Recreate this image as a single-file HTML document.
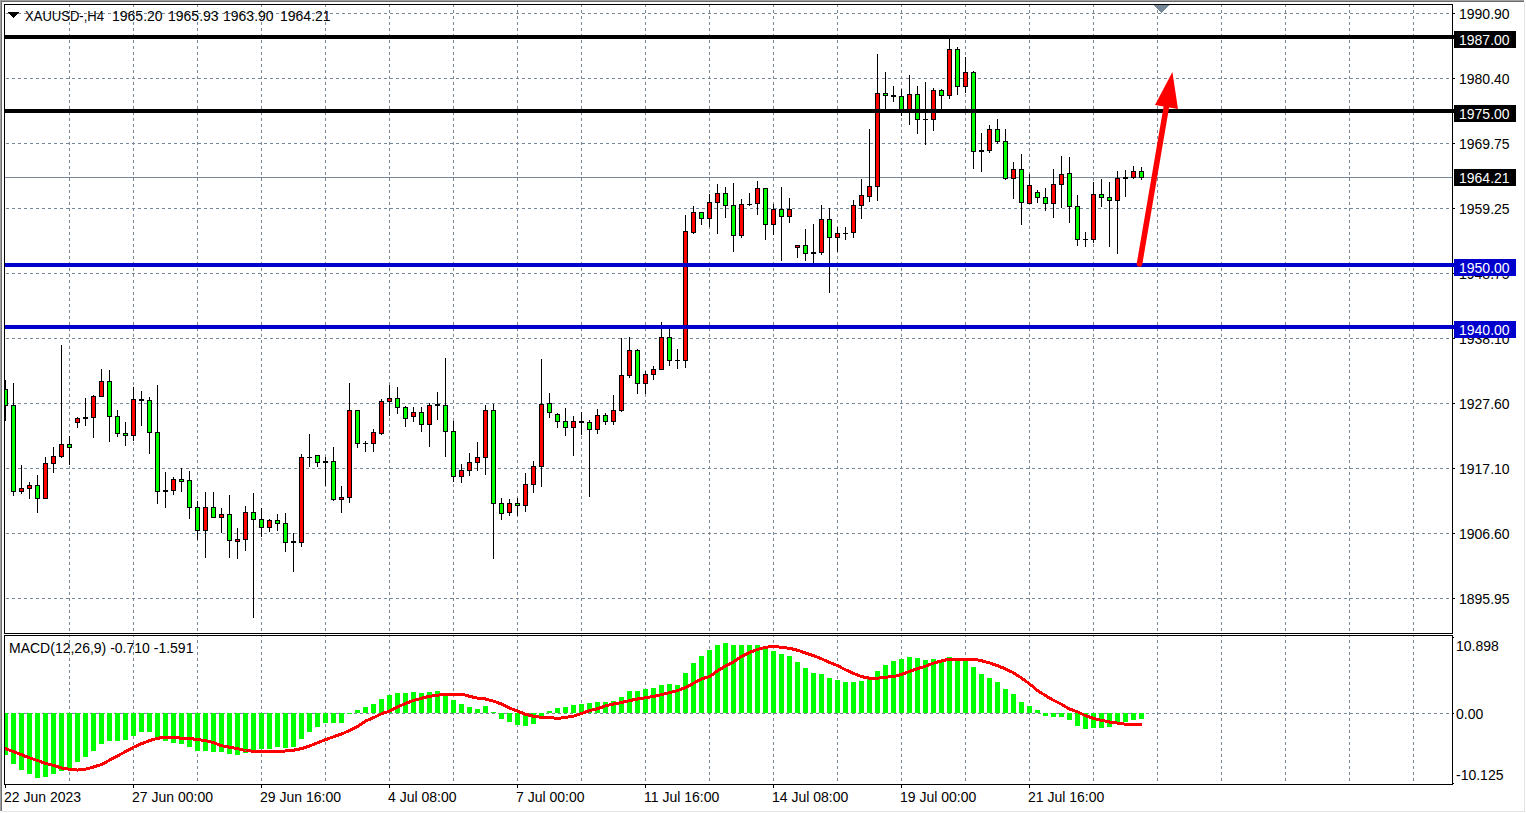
<!DOCTYPE html>
<html><head><meta charset="utf-8"><style>
html,body{margin:0;padding:0;background:#fff;overflow:hidden}
svg{display:block}
</style></head><body>
<svg width="1526" height="813" viewBox="0 0 1526 813" shape-rendering="crispEdges">
<rect x="0" y="0" width="1526" height="813" fill="#ffffff"/>
<rect x="0" y="0" width="1524" height="1" fill="#a0a0a0"/>
<rect x="0" y="1" width="1524" height="1" fill="#6e6e6e"/>
<rect x="0" y="0" width="1" height="811" fill="#a0a0a0"/>
<rect x="1" y="1" width="1" height="810" fill="#6e6e6e"/>
<rect x="1524" y="2" width="1" height="810" fill="#e3e3e3"/>
<rect x="2" y="811" width="1523" height="1" fill="#e3e3e3"/>
<g stroke="#778899" stroke-width="1" stroke-dasharray="3 3" fill="none">
<path d="M6 13.5H1452"/>
<path d="M6 78.5H1452"/>
<path d="M6 143.5H1452"/>
<path d="M6 208.5H1452"/>
<path d="M6 273.5H1452"/>
<path d="M6 338.5H1452"/>
<path d="M6 403.5H1452"/>
<path d="M6 468.5H1452"/>
<path d="M6 533.5H1452"/>
<path d="M6 598.5H1452"/>
<path d="M69.5 4V633"/>
<path d="M133.5 4V633"/>
<path d="M197.5 4V633"/>
<path d="M261.5 4V633"/>
<path d="M325.5 4V633"/>
<path d="M389.5 4V633"/>
<path d="M453.5 4V633"/>
<path d="M517.5 4V633"/>
<path d="M581.5 4V633"/>
<path d="M645.5 4V633"/>
<path d="M709.5 4V633"/>
<path d="M773.5 4V633"/>
<path d="M837.5 4V633"/>
<path d="M901.5 4V633"/>
<path d="M965.5 4V633"/>
<path d="M1029.5 4V633"/>
<path d="M1093.5 4V633"/>
<path d="M1157.5 4V633"/>
<path d="M1221.5 4V633"/>
<path d="M1285.5 4V633"/>
<path d="M1349.5 4V633"/>
<path d="M1413.5 4V633"/>
<path d="M6 713.5H1452"/>
<path d="M69.5 640V784"/>
<path d="M69.5 636V637"/>
<path d="M133.5 640V784"/>
<path d="M133.5 636V637"/>
<path d="M197.5 640V784"/>
<path d="M197.5 636V637"/>
<path d="M261.5 640V784"/>
<path d="M261.5 636V637"/>
<path d="M325.5 640V784"/>
<path d="M325.5 636V637"/>
<path d="M389.5 640V784"/>
<path d="M389.5 636V637"/>
<path d="M453.5 640V784"/>
<path d="M453.5 636V637"/>
<path d="M517.5 640V784"/>
<path d="M517.5 636V637"/>
<path d="M581.5 640V784"/>
<path d="M581.5 636V637"/>
<path d="M645.5 640V784"/>
<path d="M645.5 636V637"/>
<path d="M709.5 640V784"/>
<path d="M709.5 636V637"/>
<path d="M773.5 640V784"/>
<path d="M773.5 636V637"/>
<path d="M837.5 640V784"/>
<path d="M837.5 636V637"/>
<path d="M901.5 640V784"/>
<path d="M901.5 636V637"/>
<path d="M965.5 640V784"/>
<path d="M965.5 636V637"/>
<path d="M1029.5 640V784"/>
<path d="M1029.5 636V637"/>
<path d="M1093.5 640V784"/>
<path d="M1093.5 636V637"/>
<path d="M1157.5 640V784"/>
<path d="M1157.5 636V637"/>
<path d="M1221.5 640V784"/>
<path d="M1221.5 636V637"/>
<path d="M1285.5 640V784"/>
<path d="M1285.5 636V637"/>
<path d="M1349.5 640V784"/>
<path d="M1349.5 636V637"/>
<path d="M1413.5 640V784"/>
<path d="M1413.5 636V637"/>
</g>
<rect x="4" y="177" width="1448" height="1" fill="#778899"/>
<g>
<rect x="5" y="380" width="1" height="41" fill="#000"/>
<rect x="3" y="389" width="5" height="17" fill="#000"/>
<rect x="4" y="390" width="3" height="15" fill="#00ff00"/>
<rect x="13" y="383" width="1" height="113" fill="#000"/>
<rect x="11" y="405" width="5" height="87" fill="#000"/>
<rect x="12" y="406" width="3" height="85" fill="#00ff00"/>
<rect x="21" y="465" width="1" height="29" fill="#000"/>
<rect x="19" y="488" width="5" height="4" fill="#000"/>
<rect x="20" y="489" width="3" height="2" fill="#ff0000"/>
<rect x="29" y="482" width="1" height="17" fill="#000"/>
<rect x="27" y="485" width="5" height="4" fill="#000"/>
<rect x="28" y="486" width="3" height="2" fill="#ff0000"/>
<rect x="37" y="475" width="1" height="38" fill="#000"/>
<rect x="35" y="485" width="5" height="14" fill="#000"/>
<rect x="36" y="486" width="3" height="12" fill="#00ff00"/>
<rect x="45" y="457" width="1" height="42" fill="#000"/>
<rect x="43" y="463" width="5" height="36" fill="#000"/>
<rect x="44" y="464" width="3" height="34" fill="#ff0000"/>
<rect x="53" y="447" width="1" height="26" fill="#000"/>
<rect x="51" y="456" width="5" height="8" fill="#000"/>
<rect x="52" y="457" width="3" height="6" fill="#ff0000"/>
<rect x="61" y="345" width="1" height="113" fill="#000"/>
<rect x="59" y="444" width="5" height="13" fill="#000"/>
<rect x="60" y="445" width="3" height="11" fill="#ff0000"/>
<rect x="69" y="436" width="1" height="29" fill="#000"/>
<rect x="67" y="444" width="5" height="4" fill="#000"/>
<rect x="68" y="445" width="3" height="2" fill="#00ff00"/>
<rect x="77" y="417" width="1" height="11" fill="#000"/>
<rect x="75" y="418" width="5" height="5" fill="#000"/>
<rect x="76" y="419" width="3" height="3" fill="#ff0000"/>
<rect x="85" y="398" width="1" height="28" fill="#000"/>
<rect x="83" y="417" width="5" height="2" fill="#000"/>
<rect x="93" y="395" width="1" height="43" fill="#000"/>
<rect x="91" y="396" width="5" height="22" fill="#000"/>
<rect x="92" y="397" width="3" height="20" fill="#ff0000"/>
<rect x="101" y="369" width="1" height="28" fill="#000"/>
<rect x="99" y="381" width="5" height="16" fill="#000"/>
<rect x="100" y="382" width="3" height="14" fill="#ff0000"/>
<rect x="109" y="370" width="1" height="72" fill="#000"/>
<rect x="107" y="381" width="5" height="36" fill="#000"/>
<rect x="108" y="382" width="3" height="34" fill="#00ff00"/>
<rect x="117" y="410" width="1" height="27" fill="#000"/>
<rect x="115" y="416" width="5" height="18" fill="#000"/>
<rect x="116" y="417" width="3" height="16" fill="#00ff00"/>
<rect x="125" y="422" width="1" height="24" fill="#000"/>
<rect x="123" y="433" width="5" height="3" fill="#000"/>
<rect x="124" y="434" width="3" height="1" fill="#00ff00"/>
<rect x="133" y="387" width="1" height="54" fill="#000"/>
<rect x="131" y="399" width="5" height="37" fill="#000"/>
<rect x="132" y="400" width="3" height="35" fill="#ff0000"/>
<rect x="141" y="391" width="1" height="35" fill="#000"/>
<rect x="139" y="399" width="5" height="2" fill="#000"/>
<rect x="149" y="397" width="1" height="57" fill="#000"/>
<rect x="147" y="400" width="5" height="33" fill="#000"/>
<rect x="148" y="401" width="3" height="31" fill="#00ff00"/>
<rect x="157" y="385" width="1" height="119" fill="#000"/>
<rect x="155" y="432" width="5" height="60" fill="#000"/>
<rect x="156" y="433" width="3" height="58" fill="#00ff00"/>
<rect x="165" y="472" width="1" height="36" fill="#000"/>
<rect x="163" y="490" width="5" height="2" fill="#000"/>
<rect x="173" y="477" width="1" height="18" fill="#000"/>
<rect x="171" y="479" width="5" height="12" fill="#000"/>
<rect x="172" y="480" width="3" height="10" fill="#ff0000"/>
<rect x="181" y="468" width="1" height="24" fill="#000"/>
<rect x="179" y="479" width="5" height="3" fill="#000"/>
<rect x="180" y="480" width="3" height="1" fill="#00ff00"/>
<rect x="189" y="471" width="1" height="48" fill="#000"/>
<rect x="187" y="480" width="5" height="28" fill="#000"/>
<rect x="188" y="481" width="3" height="26" fill="#00ff00"/>
<rect x="197" y="501" width="1" height="39" fill="#000"/>
<rect x="195" y="507" width="5" height="24" fill="#000"/>
<rect x="196" y="508" width="3" height="22" fill="#00ff00"/>
<rect x="205" y="492" width="1" height="66" fill="#000"/>
<rect x="203" y="507" width="5" height="24" fill="#000"/>
<rect x="204" y="508" width="3" height="22" fill="#ff0000"/>
<rect x="213" y="492" width="1" height="26" fill="#000"/>
<rect x="211" y="507" width="5" height="11" fill="#000"/>
<rect x="212" y="508" width="3" height="9" fill="#00ff00"/>
<rect x="221" y="508" width="1" height="25" fill="#000"/>
<rect x="219" y="514" width="5" height="4" fill="#000"/>
<rect x="220" y="515" width="3" height="2" fill="#ff0000"/>
<rect x="229" y="495" width="1" height="63" fill="#000"/>
<rect x="227" y="514" width="5" height="27" fill="#000"/>
<rect x="228" y="515" width="3" height="25" fill="#00ff00"/>
<rect x="237" y="528" width="1" height="31" fill="#000"/>
<rect x="235" y="539" width="5" height="3" fill="#000"/>
<rect x="236" y="540" width="3" height="1" fill="#ff0000"/>
<rect x="245" y="506" width="1" height="45" fill="#000"/>
<rect x="243" y="512" width="5" height="28" fill="#000"/>
<rect x="244" y="513" width="3" height="26" fill="#ff0000"/>
<rect x="253" y="493" width="1" height="125" fill="#000"/>
<rect x="251" y="512" width="5" height="8" fill="#000"/>
<rect x="252" y="513" width="3" height="6" fill="#00ff00"/>
<rect x="261" y="508" width="1" height="29" fill="#000"/>
<rect x="259" y="519" width="5" height="9" fill="#000"/>
<rect x="260" y="520" width="3" height="7" fill="#00ff00"/>
<rect x="269" y="519" width="1" height="13" fill="#000"/>
<rect x="267" y="520" width="5" height="8" fill="#000"/>
<rect x="268" y="521" width="3" height="6" fill="#ff0000"/>
<rect x="277" y="514" width="1" height="17" fill="#000"/>
<rect x="275" y="520" width="5" height="4" fill="#000"/>
<rect x="276" y="521" width="3" height="2" fill="#00ff00"/>
<rect x="285" y="513" width="1" height="39" fill="#000"/>
<rect x="283" y="523" width="5" height="20" fill="#000"/>
<rect x="284" y="524" width="3" height="18" fill="#00ff00"/>
<rect x="293" y="533" width="1" height="39" fill="#000"/>
<rect x="291" y="541" width="5" height="2" fill="#000"/>
<rect x="301" y="454" width="1" height="93" fill="#000"/>
<rect x="299" y="457" width="5" height="86" fill="#000"/>
<rect x="300" y="458" width="3" height="84" fill="#ff0000"/>
<rect x="309" y="434" width="1" height="33" fill="#000"/>
<rect x="307" y="457" width="5" height="1" fill="#000"/>
<rect x="317" y="455" width="1" height="12" fill="#000"/>
<rect x="315" y="455" width="5" height="8" fill="#000"/>
<rect x="316" y="456" width="3" height="6" fill="#00ff00"/>
<rect x="325" y="457" width="1" height="29" fill="#000"/>
<rect x="323" y="461" width="5" height="2" fill="#000"/>
<rect x="333" y="447" width="1" height="54" fill="#000"/>
<rect x="331" y="461" width="5" height="39" fill="#000"/>
<rect x="332" y="462" width="3" height="37" fill="#00ff00"/>
<rect x="341" y="486" width="1" height="27" fill="#000"/>
<rect x="339" y="497" width="5" height="3" fill="#000"/>
<rect x="340" y="498" width="3" height="1" fill="#ff0000"/>
<rect x="349" y="383" width="1" height="120" fill="#000"/>
<rect x="347" y="410" width="5" height="88" fill="#000"/>
<rect x="348" y="411" width="3" height="86" fill="#ff0000"/>
<rect x="357" y="410" width="1" height="38" fill="#000"/>
<rect x="355" y="410" width="5" height="34" fill="#000"/>
<rect x="356" y="411" width="3" height="32" fill="#00ff00"/>
<rect x="365" y="441" width="1" height="11" fill="#000"/>
<rect x="363" y="443" width="5" height="1" fill="#000"/>
<rect x="373" y="429" width="1" height="23" fill="#000"/>
<rect x="371" y="432" width="5" height="12" fill="#000"/>
<rect x="372" y="433" width="3" height="10" fill="#ff0000"/>
<rect x="381" y="399" width="1" height="36" fill="#000"/>
<rect x="379" y="401" width="5" height="33" fill="#000"/>
<rect x="380" y="402" width="3" height="31" fill="#ff0000"/>
<rect x="389" y="385" width="1" height="31" fill="#000"/>
<rect x="387" y="398" width="5" height="4" fill="#000"/>
<rect x="388" y="399" width="3" height="2" fill="#ff0000"/>
<rect x="397" y="387" width="1" height="27" fill="#000"/>
<rect x="395" y="398" width="5" height="10" fill="#000"/>
<rect x="396" y="399" width="3" height="8" fill="#00ff00"/>
<rect x="405" y="406" width="1" height="21" fill="#000"/>
<rect x="403" y="407" width="5" height="12" fill="#000"/>
<rect x="404" y="408" width="3" height="10" fill="#00ff00"/>
<rect x="413" y="407" width="1" height="15" fill="#000"/>
<rect x="411" y="412" width="5" height="5" fill="#000"/>
<rect x="412" y="413" width="3" height="3" fill="#ff0000"/>
<rect x="421" y="407" width="1" height="25" fill="#000"/>
<rect x="419" y="412" width="5" height="13" fill="#000"/>
<rect x="420" y="413" width="3" height="11" fill="#00ff00"/>
<rect x="429" y="403" width="1" height="44" fill="#000"/>
<rect x="427" y="405" width="5" height="20" fill="#000"/>
<rect x="428" y="406" width="3" height="18" fill="#ff0000"/>
<rect x="437" y="392" width="1" height="28" fill="#000"/>
<rect x="435" y="404" width="5" height="2" fill="#000"/>
<rect x="445" y="358" width="1" height="99" fill="#000"/>
<rect x="443" y="405" width="5" height="27" fill="#000"/>
<rect x="444" y="406" width="3" height="25" fill="#00ff00"/>
<rect x="453" y="421" width="1" height="61" fill="#000"/>
<rect x="451" y="431" width="5" height="46" fill="#000"/>
<rect x="452" y="432" width="3" height="44" fill="#00ff00"/>
<rect x="461" y="464" width="1" height="19" fill="#000"/>
<rect x="459" y="470" width="5" height="7" fill="#000"/>
<rect x="460" y="471" width="3" height="5" fill="#ff0000"/>
<rect x="469" y="453" width="1" height="23" fill="#000"/>
<rect x="467" y="462" width="5" height="9" fill="#000"/>
<rect x="468" y="463" width="3" height="7" fill="#ff0000"/>
<rect x="477" y="442" width="1" height="29" fill="#000"/>
<rect x="475" y="457" width="5" height="6" fill="#000"/>
<rect x="476" y="458" width="3" height="4" fill="#ff0000"/>
<rect x="485" y="405" width="1" height="70" fill="#000"/>
<rect x="483" y="410" width="5" height="48" fill="#000"/>
<rect x="484" y="411" width="3" height="46" fill="#ff0000"/>
<rect x="493" y="404" width="1" height="155" fill="#000"/>
<rect x="491" y="410" width="5" height="94" fill="#000"/>
<rect x="492" y="411" width="3" height="92" fill="#00ff00"/>
<rect x="501" y="498" width="1" height="22" fill="#000"/>
<rect x="499" y="503" width="5" height="11" fill="#000"/>
<rect x="500" y="504" width="3" height="9" fill="#00ff00"/>
<rect x="509" y="499" width="1" height="17" fill="#000"/>
<rect x="507" y="503" width="5" height="10" fill="#000"/>
<rect x="508" y="504" width="3" height="8" fill="#ff0000"/>
<rect x="517" y="498" width="1" height="18" fill="#000"/>
<rect x="515" y="503" width="5" height="3" fill="#000"/>
<rect x="516" y="504" width="3" height="1" fill="#00ff00"/>
<rect x="525" y="473" width="1" height="39" fill="#000"/>
<rect x="523" y="484" width="5" height="22" fill="#000"/>
<rect x="524" y="485" width="3" height="20" fill="#ff0000"/>
<rect x="533" y="461" width="1" height="32" fill="#000"/>
<rect x="531" y="466" width="5" height="19" fill="#000"/>
<rect x="532" y="467" width="3" height="17" fill="#ff0000"/>
<rect x="541" y="359" width="1" height="128" fill="#000"/>
<rect x="539" y="404" width="5" height="63" fill="#000"/>
<rect x="540" y="405" width="3" height="61" fill="#ff0000"/>
<rect x="549" y="393" width="1" height="25" fill="#000"/>
<rect x="547" y="403" width="5" height="10" fill="#000"/>
<rect x="548" y="404" width="3" height="8" fill="#00ff00"/>
<rect x="557" y="413" width="1" height="15" fill="#000"/>
<rect x="555" y="414" width="5" height="8" fill="#000"/>
<rect x="556" y="415" width="3" height="6" fill="#00ff00"/>
<rect x="565" y="408" width="1" height="28" fill="#000"/>
<rect x="563" y="421" width="5" height="7" fill="#000"/>
<rect x="564" y="422" width="3" height="5" fill="#00ff00"/>
<rect x="573" y="416" width="1" height="40" fill="#000"/>
<rect x="571" y="421" width="5" height="7" fill="#000"/>
<rect x="572" y="422" width="3" height="5" fill="#ff0000"/>
<rect x="581" y="412" width="1" height="23" fill="#000"/>
<rect x="579" y="421" width="5" height="2" fill="#000"/>
<rect x="589" y="420" width="1" height="77" fill="#000"/>
<rect x="587" y="422" width="5" height="8" fill="#000"/>
<rect x="588" y="423" width="3" height="6" fill="#00ff00"/>
<rect x="597" y="409" width="1" height="25" fill="#000"/>
<rect x="595" y="415" width="5" height="15" fill="#000"/>
<rect x="596" y="416" width="3" height="13" fill="#ff0000"/>
<rect x="605" y="413" width="1" height="12" fill="#000"/>
<rect x="603" y="415" width="5" height="7" fill="#000"/>
<rect x="604" y="416" width="3" height="5" fill="#00ff00"/>
<rect x="613" y="395" width="1" height="30" fill="#000"/>
<rect x="611" y="410" width="5" height="12" fill="#000"/>
<rect x="612" y="411" width="3" height="10" fill="#ff0000"/>
<rect x="621" y="338" width="1" height="74" fill="#000"/>
<rect x="619" y="375" width="5" height="36" fill="#000"/>
<rect x="620" y="376" width="3" height="34" fill="#ff0000"/>
<rect x="629" y="337" width="1" height="41" fill="#000"/>
<rect x="627" y="350" width="5" height="26" fill="#000"/>
<rect x="628" y="351" width="3" height="24" fill="#ff0000"/>
<rect x="637" y="349" width="1" height="45" fill="#000"/>
<rect x="635" y="350" width="5" height="34" fill="#000"/>
<rect x="636" y="351" width="3" height="32" fill="#00ff00"/>
<rect x="645" y="371" width="1" height="23" fill="#000"/>
<rect x="643" y="374" width="5" height="10" fill="#000"/>
<rect x="644" y="375" width="3" height="8" fill="#ff0000"/>
<rect x="653" y="366" width="1" height="14" fill="#000"/>
<rect x="651" y="369" width="5" height="6" fill="#000"/>
<rect x="652" y="370" width="3" height="4" fill="#ff0000"/>
<rect x="661" y="322" width="1" height="48" fill="#000"/>
<rect x="659" y="337" width="5" height="33" fill="#000"/>
<rect x="660" y="338" width="3" height="31" fill="#ff0000"/>
<rect x="669" y="329" width="1" height="37" fill="#000"/>
<rect x="667" y="337" width="5" height="24" fill="#000"/>
<rect x="668" y="338" width="3" height="22" fill="#00ff00"/>
<rect x="677" y="349" width="1" height="20" fill="#000"/>
<rect x="675" y="360" width="5" height="1" fill="#000"/>
<rect x="685" y="215" width="1" height="153" fill="#000"/>
<rect x="683" y="231" width="5" height="130" fill="#000"/>
<rect x="684" y="232" width="3" height="128" fill="#ff0000"/>
<rect x="693" y="206" width="1" height="28" fill="#000"/>
<rect x="691" y="212" width="5" height="21" fill="#000"/>
<rect x="692" y="213" width="3" height="19" fill="#ff0000"/>
<rect x="701" y="212" width="1" height="13" fill="#000"/>
<rect x="699" y="212" width="5" height="7" fill="#000"/>
<rect x="700" y="213" width="3" height="5" fill="#00ff00"/>
<rect x="709" y="194" width="1" height="33" fill="#000"/>
<rect x="707" y="202" width="5" height="17" fill="#000"/>
<rect x="708" y="203" width="3" height="15" fill="#ff0000"/>
<rect x="717" y="184" width="1" height="50" fill="#000"/>
<rect x="715" y="193" width="5" height="10" fill="#000"/>
<rect x="716" y="194" width="3" height="8" fill="#ff0000"/>
<rect x="725" y="187" width="1" height="31" fill="#000"/>
<rect x="723" y="193" width="5" height="13" fill="#000"/>
<rect x="724" y="194" width="3" height="11" fill="#00ff00"/>
<rect x="733" y="183" width="1" height="69" fill="#000"/>
<rect x="731" y="205" width="5" height="31" fill="#000"/>
<rect x="732" y="206" width="3" height="29" fill="#00ff00"/>
<rect x="741" y="199" width="1" height="39" fill="#000"/>
<rect x="739" y="204" width="5" height="32" fill="#000"/>
<rect x="740" y="205" width="3" height="30" fill="#ff0000"/>
<rect x="749" y="193" width="1" height="13" fill="#000"/>
<rect x="747" y="204" width="5" height="1" fill="#000"/>
<rect x="757" y="181" width="1" height="34" fill="#000"/>
<rect x="755" y="188" width="5" height="16" fill="#000"/>
<rect x="756" y="189" width="3" height="14" fill="#ff0000"/>
<rect x="765" y="188" width="1" height="52" fill="#000"/>
<rect x="763" y="188" width="5" height="37" fill="#000"/>
<rect x="764" y="189" width="3" height="35" fill="#00ff00"/>
<rect x="773" y="204" width="1" height="31" fill="#000"/>
<rect x="771" y="209" width="5" height="16" fill="#000"/>
<rect x="772" y="210" width="3" height="14" fill="#ff0000"/>
<rect x="781" y="187" width="1" height="74" fill="#000"/>
<rect x="779" y="209" width="5" height="8" fill="#000"/>
<rect x="780" y="210" width="3" height="6" fill="#00ff00"/>
<rect x="789" y="198" width="1" height="25" fill="#000"/>
<rect x="787" y="209" width="5" height="8" fill="#000"/>
<rect x="788" y="210" width="3" height="6" fill="#ff0000"/>
<rect x="797" y="245" width="1" height="13" fill="#000"/>
<rect x="795" y="245" width="5" height="3" fill="#000"/>
<rect x="796" y="246" width="3" height="1" fill="#ff0000"/>
<rect x="805" y="229" width="1" height="32" fill="#000"/>
<rect x="803" y="245" width="5" height="9" fill="#000"/>
<rect x="804" y="246" width="3" height="7" fill="#00ff00"/>
<rect x="813" y="224" width="1" height="39" fill="#000"/>
<rect x="811" y="252" width="5" height="2" fill="#000"/>
<rect x="821" y="205" width="1" height="50" fill="#000"/>
<rect x="819" y="219" width="5" height="34" fill="#000"/>
<rect x="820" y="220" width="3" height="32" fill="#ff0000"/>
<rect x="829" y="208" width="1" height="85" fill="#000"/>
<rect x="827" y="219" width="5" height="19" fill="#000"/>
<rect x="828" y="220" width="3" height="17" fill="#00ff00"/>
<rect x="837" y="227" width="1" height="25" fill="#000"/>
<rect x="835" y="233" width="5" height="5" fill="#000"/>
<rect x="836" y="234" width="3" height="3" fill="#ff0000"/>
<rect x="845" y="227" width="1" height="13" fill="#000"/>
<rect x="843" y="233" width="5" height="1" fill="#000"/>
<rect x="853" y="200" width="1" height="38" fill="#000"/>
<rect x="851" y="205" width="5" height="28" fill="#000"/>
<rect x="852" y="206" width="3" height="26" fill="#ff0000"/>
<rect x="861" y="179" width="1" height="40" fill="#000"/>
<rect x="859" y="195" width="5" height="11" fill="#000"/>
<rect x="860" y="196" width="3" height="9" fill="#ff0000"/>
<rect x="869" y="129" width="1" height="73" fill="#000"/>
<rect x="867" y="186" width="5" height="11" fill="#000"/>
<rect x="868" y="187" width="3" height="9" fill="#ff0000"/>
<rect x="877" y="54" width="1" height="147" fill="#000"/>
<rect x="875" y="93" width="5" height="94" fill="#000"/>
<rect x="876" y="94" width="3" height="92" fill="#ff0000"/>
<rect x="885" y="72" width="1" height="37" fill="#000"/>
<rect x="883" y="93" width="5" height="3" fill="#000"/>
<rect x="884" y="94" width="3" height="1" fill="#00ff00"/>
<rect x="893" y="86" width="1" height="16" fill="#000"/>
<rect x="891" y="95" width="5" height="2" fill="#000"/>
<rect x="901" y="89" width="1" height="27" fill="#000"/>
<rect x="899" y="96" width="5" height="14" fill="#000"/>
<rect x="900" y="97" width="3" height="12" fill="#00ff00"/>
<rect x="909" y="75" width="1" height="50" fill="#000"/>
<rect x="907" y="94" width="5" height="16" fill="#000"/>
<rect x="908" y="95" width="3" height="14" fill="#ff0000"/>
<rect x="917" y="86" width="1" height="48" fill="#000"/>
<rect x="915" y="94" width="5" height="26" fill="#000"/>
<rect x="916" y="95" width="3" height="24" fill="#00ff00"/>
<rect x="925" y="82" width="1" height="63" fill="#000"/>
<rect x="923" y="119" width="5" height="1" fill="#000"/>
<rect x="933" y="88" width="1" height="43" fill="#000"/>
<rect x="931" y="90" width="5" height="30" fill="#000"/>
<rect x="932" y="91" width="3" height="28" fill="#ff0000"/>
<rect x="941" y="89" width="1" height="20" fill="#000"/>
<rect x="939" y="90" width="5" height="6" fill="#000"/>
<rect x="940" y="91" width="3" height="4" fill="#00ff00"/>
<rect x="949" y="38" width="1" height="61" fill="#000"/>
<rect x="947" y="49" width="5" height="47" fill="#000"/>
<rect x="948" y="50" width="3" height="45" fill="#ff0000"/>
<rect x="957" y="47" width="1" height="48" fill="#000"/>
<rect x="955" y="49" width="5" height="38" fill="#000"/>
<rect x="956" y="50" width="3" height="36" fill="#00ff00"/>
<rect x="965" y="57" width="1" height="36" fill="#000"/>
<rect x="963" y="72" width="5" height="15" fill="#000"/>
<rect x="964" y="73" width="3" height="13" fill="#ff0000"/>
<rect x="973" y="71" width="1" height="98" fill="#000"/>
<rect x="971" y="72" width="5" height="80" fill="#000"/>
<rect x="972" y="73" width="3" height="78" fill="#00ff00"/>
<rect x="981" y="133" width="1" height="39" fill="#000"/>
<rect x="979" y="150" width="5" height="2" fill="#000"/>
<rect x="989" y="125" width="1" height="28" fill="#000"/>
<rect x="987" y="129" width="5" height="22" fill="#000"/>
<rect x="988" y="130" width="3" height="20" fill="#ff0000"/>
<rect x="997" y="119" width="1" height="25" fill="#000"/>
<rect x="995" y="129" width="5" height="13" fill="#000"/>
<rect x="996" y="130" width="3" height="11" fill="#00ff00"/>
<rect x="1005" y="129" width="1" height="51" fill="#000"/>
<rect x="1003" y="141" width="5" height="38" fill="#000"/>
<rect x="1004" y="142" width="3" height="36" fill="#00ff00"/>
<rect x="1013" y="162" width="1" height="37" fill="#000"/>
<rect x="1011" y="169" width="5" height="10" fill="#000"/>
<rect x="1012" y="170" width="3" height="8" fill="#ff0000"/>
<rect x="1021" y="154" width="1" height="71" fill="#000"/>
<rect x="1019" y="169" width="5" height="34" fill="#000"/>
<rect x="1020" y="170" width="3" height="32" fill="#00ff00"/>
<rect x="1029" y="174" width="1" height="30" fill="#000"/>
<rect x="1027" y="185" width="5" height="19" fill="#000"/>
<rect x="1028" y="186" width="3" height="17" fill="#ff0000"/>
<rect x="1037" y="190" width="1" height="13" fill="#000"/>
<rect x="1035" y="192" width="5" height="6" fill="#000"/>
<rect x="1036" y="193" width="3" height="4" fill="#00ff00"/>
<rect x="1045" y="188" width="1" height="23" fill="#000"/>
<rect x="1043" y="197" width="5" height="7" fill="#000"/>
<rect x="1044" y="198" width="3" height="5" fill="#00ff00"/>
<rect x="1053" y="169" width="1" height="49" fill="#000"/>
<rect x="1051" y="184" width="5" height="20" fill="#000"/>
<rect x="1052" y="185" width="3" height="18" fill="#ff0000"/>
<rect x="1061" y="156" width="1" height="52" fill="#000"/>
<rect x="1059" y="174" width="5" height="11" fill="#000"/>
<rect x="1060" y="175" width="3" height="9" fill="#ff0000"/>
<rect x="1069" y="157" width="1" height="66" fill="#000"/>
<rect x="1067" y="173" width="5" height="34" fill="#000"/>
<rect x="1068" y="174" width="3" height="32" fill="#00ff00"/>
<rect x="1077" y="195" width="1" height="51" fill="#000"/>
<rect x="1075" y="206" width="5" height="34" fill="#000"/>
<rect x="1076" y="207" width="3" height="32" fill="#00ff00"/>
<rect x="1085" y="232" width="1" height="15" fill="#000"/>
<rect x="1083" y="239" width="5" height="1" fill="#000"/>
<rect x="1093" y="182" width="1" height="61" fill="#000"/>
<rect x="1091" y="194" width="5" height="46" fill="#000"/>
<rect x="1092" y="195" width="3" height="44" fill="#ff0000"/>
<rect x="1101" y="179" width="1" height="28" fill="#000"/>
<rect x="1099" y="194" width="5" height="4" fill="#000"/>
<rect x="1100" y="195" width="3" height="2" fill="#00ff00"/>
<rect x="1109" y="182" width="1" height="65" fill="#000"/>
<rect x="1107" y="197" width="5" height="4" fill="#000"/>
<rect x="1108" y="198" width="3" height="2" fill="#00ff00"/>
<rect x="1117" y="171" width="1" height="83" fill="#000"/>
<rect x="1115" y="178" width="5" height="23" fill="#000"/>
<rect x="1116" y="179" width="3" height="21" fill="#ff0000"/>
<rect x="1125" y="170" width="1" height="27" fill="#000"/>
<rect x="1123" y="177" width="5" height="2" fill="#000"/>
<rect x="1133" y="166" width="1" height="13" fill="#000"/>
<rect x="1131" y="171" width="5" height="7" fill="#000"/>
<rect x="1132" y="172" width="3" height="5" fill="#ff0000"/>
<rect x="1141" y="167" width="1" height="13" fill="#000"/>
<rect x="1139" y="171" width="5" height="7" fill="#000"/>
<rect x="1140" y="172" width="3" height="5" fill="#00ff00"/>
</g>
<rect x="4" y="35" width="1450" height="4" fill="#000000"/>
<rect x="4" y="109" width="1450" height="4" fill="#000000"/>
<rect x="4" y="263" width="1450" height="4" fill="#0000cd"/>
<rect x="4" y="325" width="1450" height="4" fill="#0000cd"/>
<g fill="#00ff00">
<rect x="3" y="713" width="5" height="42"/>
<rect x="11" y="713" width="5" height="51"/>
<rect x="19" y="713" width="5" height="57"/>
<rect x="27" y="713" width="5" height="61"/>
<rect x="35" y="713" width="5" height="65"/>
<rect x="43" y="713" width="5" height="64"/>
<rect x="51" y="713" width="5" height="61"/>
<rect x="59" y="713" width="5" height="58"/>
<rect x="67" y="713" width="5" height="55"/>
<rect x="75" y="713" width="5" height="49"/>
<rect x="83" y="713" width="5" height="44"/>
<rect x="91" y="713" width="5" height="38"/>
<rect x="99" y="713" width="5" height="31"/>
<rect x="107" y="713" width="5" height="28"/>
<rect x="115" y="713" width="5" height="28"/>
<rect x="123" y="713" width="5" height="27"/>
<rect x="131" y="713" width="5" height="23"/>
<rect x="139" y="713" width="5" height="19"/>
<rect x="147" y="713" width="5" height="19"/>
<rect x="155" y="713" width="5" height="25"/>
<rect x="163" y="713" width="5" height="28"/>
<rect x="171" y="713" width="5" height="30"/>
<rect x="179" y="713" width="5" height="31"/>
<rect x="187" y="713" width="5" height="34"/>
<rect x="195" y="713" width="5" height="38"/>
<rect x="203" y="713" width="5" height="38"/>
<rect x="211" y="713" width="5" height="39"/>
<rect x="219" y="713" width="5" height="39"/>
<rect x="227" y="713" width="5" height="41"/>
<rect x="235" y="713" width="5" height="42"/>
<rect x="243" y="713" width="5" height="40"/>
<rect x="251" y="713" width="5" height="37"/>
<rect x="259" y="713" width="5" height="36"/>
<rect x="267" y="713" width="5" height="36"/>
<rect x="275" y="713" width="5" height="34"/>
<rect x="283" y="713" width="5" height="35"/>
<rect x="291" y="713" width="5" height="34"/>
<rect x="299" y="713" width="5" height="26"/>
<rect x="307" y="713" width="5" height="19"/>
<rect x="315" y="713" width="5" height="14"/>
<rect x="323" y="713" width="5" height="10"/>
<rect x="331" y="713" width="5" height="10"/>
<rect x="339" y="713" width="5" height="10"/>
<rect x="347" y="713" width="5" height="1"/>
<rect x="355" y="710" width="5" height="3"/>
<rect x="363" y="707" width="5" height="6"/>
<rect x="371" y="704" width="5" height="9"/>
<rect x="379" y="699" width="5" height="14"/>
<rect x="387" y="695" width="5" height="18"/>
<rect x="395" y="693" width="5" height="20"/>
<rect x="403" y="693" width="5" height="20"/>
<rect x="411" y="692" width="5" height="21"/>
<rect x="419" y="693" width="5" height="20"/>
<rect x="427" y="692" width="5" height="21"/>
<rect x="435" y="691" width="5" height="22"/>
<rect x="443" y="696" width="5" height="17"/>
<rect x="451" y="700" width="5" height="13"/>
<rect x="459" y="704" width="5" height="9"/>
<rect x="467" y="707" width="5" height="6"/>
<rect x="475" y="709" width="5" height="4"/>
<rect x="483" y="706" width="5" height="7"/>
<rect x="491" y="712" width="5" height="1"/>
<rect x="499" y="713" width="5" height="6"/>
<rect x="507" y="713" width="5" height="9"/>
<rect x="515" y="713" width="5" height="12"/>
<rect x="523" y="713" width="5" height="13"/>
<rect x="531" y="713" width="5" height="11"/>
<rect x="539" y="713" width="5" height="3"/>
<rect x="547" y="711" width="5" height="2"/>
<rect x="555" y="708" width="5" height="5"/>
<rect x="563" y="707" width="5" height="6"/>
<rect x="571" y="705" width="5" height="8"/>
<rect x="579" y="704" width="5" height="9"/>
<rect x="587" y="703" width="5" height="10"/>
<rect x="595" y="702" width="5" height="11"/>
<rect x="603" y="702" width="5" height="11"/>
<rect x="611" y="701" width="5" height="12"/>
<rect x="619" y="697" width="5" height="16"/>
<rect x="627" y="691" width="5" height="22"/>
<rect x="635" y="691" width="5" height="22"/>
<rect x="643" y="689" width="5" height="24"/>
<rect x="651" y="688" width="5" height="25"/>
<rect x="659" y="685" width="5" height="28"/>
<rect x="667" y="684" width="5" height="29"/>
<rect x="675" y="685" width="5" height="28"/>
<rect x="683" y="673" width="5" height="40"/>
<rect x="691" y="663" width="5" height="50"/>
<rect x="699" y="656" width="5" height="57"/>
<rect x="707" y="650" width="5" height="63"/>
<rect x="715" y="645" width="5" height="68"/>
<rect x="723" y="643" width="5" height="70"/>
<rect x="731" y="645" width="5" height="68"/>
<rect x="739" y="645" width="5" height="68"/>
<rect x="747" y="645" width="5" height="68"/>
<rect x="755" y="645" width="5" height="68"/>
<rect x="763" y="649" width="5" height="64"/>
<rect x="771" y="651" width="5" height="62"/>
<rect x="779" y="654" width="5" height="59"/>
<rect x="787" y="656" width="5" height="57"/>
<rect x="795" y="662" width="5" height="51"/>
<rect x="803" y="668" width="5" height="45"/>
<rect x="811" y="673" width="5" height="40"/>
<rect x="819" y="674" width="5" height="39"/>
<rect x="827" y="678" width="5" height="35"/>
<rect x="835" y="680" width="5" height="33"/>
<rect x="843" y="682" width="5" height="31"/>
<rect x="851" y="682" width="5" height="31"/>
<rect x="859" y="681" width="5" height="32"/>
<rect x="867" y="679" width="5" height="34"/>
<rect x="875" y="671" width="5" height="42"/>
<rect x="883" y="665" width="5" height="48"/>
<rect x="891" y="661" width="5" height="52"/>
<rect x="899" y="659" width="5" height="54"/>
<rect x="907" y="657" width="5" height="56"/>
<rect x="915" y="658" width="5" height="55"/>
<rect x="923" y="660" width="5" height="53"/>
<rect x="931" y="659" width="5" height="54"/>
<rect x="939" y="660" width="5" height="53"/>
<rect x="947" y="657" width="5" height="56"/>
<rect x="955" y="659" width="5" height="54"/>
<rect x="963" y="659" width="5" height="54"/>
<rect x="971" y="667" width="5" height="46"/>
<rect x="979" y="674" width="5" height="39"/>
<rect x="987" y="678" width="5" height="35"/>
<rect x="995" y="682" width="5" height="31"/>
<rect x="1003" y="689" width="5" height="24"/>
<rect x="1011" y="694" width="5" height="19"/>
<rect x="1019" y="702" width="5" height="11"/>
<rect x="1027" y="706" width="5" height="7"/>
<rect x="1035" y="710" width="5" height="3"/>
<rect x="1043" y="713" width="5" height="3"/>
<rect x="1051" y="713" width="5" height="4"/>
<rect x="1059" y="713" width="5" height="4"/>
<rect x="1067" y="713" width="5" height="7"/>
<rect x="1075" y="713" width="5" height="13"/>
<rect x="1083" y="713" width="5" height="16"/>
<rect x="1091" y="713" width="5" height="15"/>
<rect x="1099" y="713" width="5" height="15"/>
<rect x="1107" y="713" width="5" height="14"/>
<rect x="1115" y="713" width="5" height="11"/>
<rect x="1123" y="713" width="5" height="9"/>
<rect x="1131" y="713" width="5" height="7"/>
<rect x="1139" y="713" width="5" height="6"/>
</g>
<polyline points="4,747.2 5.5,748.7 13.5,751.6 21.5,754.7 29.5,757.9 37.5,760.5 45.5,763.4 53.5,765.4 61.5,768.0 69.5,769.3 77.5,770.1 85.5,769.2 93.5,767.0 101.5,764.5 109.5,760.2 117.5,756.0 125.5,751.6 133.5,747.3 141.5,743.7 149.5,740.6 157.5,738.2 165.5,737.4 173.5,737.4 181.5,738.2 189.5,738.5 197.5,739.5 205.5,740.6 213.5,742.6 221.5,745.7 229.5,747.2 237.5,748.7 245.5,750.5 253.5,751.3 261.5,751.3 269.5,751.3 277.5,751.3 285.5,751.0 293.5,750.2 301.5,748.6 309.5,746.0 317.5,742.8 325.5,739.7 333.5,736.8 341.5,734.0 349.5,730.6 357.5,726.6 365.5,721.1 373.5,717.7 381.5,713.7 389.5,711.2 397.5,707.0 405.5,703.5 413.5,700.4 421.5,698.3 429.5,696.3 437.5,695.2 445.5,694.1 453.5,694.1 461.5,694.1 469.5,696.3 477.5,698.1 485.5,699.0 493.5,701.2 501.5,704.0 509.5,708.0 517.5,711.1 525.5,714.3 533.5,716.2 541.5,717.4 549.5,717.4 557.5,718.5 565.5,717.4 573.5,716.2 581.5,713.5 589.5,710.6 597.5,708.8 605.5,705.9 613.5,704.0 621.5,702.5 629.5,700.6 637.5,699.0 645.5,697.7 653.5,696.5 661.5,694.6 669.5,692.7 677.5,690.7 685.5,687.5 693.5,683.3 701.5,678.9 709.5,676.6 717.5,670.9 725.5,665.9 733.5,662.0 741.5,656.4 749.5,652.5 757.5,649.4 765.5,647.3 773.5,646.5 781.5,647.3 789.5,648.3 797.5,650.2 805.5,653.0 813.5,655.7 821.5,658.8 829.5,662.4 837.5,665.6 845.5,669.8 853.5,673.3 861.5,676.6 869.5,678.2 877.5,678.2 885.5,677.2 893.5,676.6 901.5,674.5 909.5,671.4 917.5,668.6 925.5,666.2 933.5,663.1 941.5,661.0 949.5,659.1 957.5,659.1 965.5,659.1 973.5,659.1 981.5,660.7 989.5,662.9 997.5,665.7 1005.5,668.9 1013.5,672.8 1021.5,678.0 1029.5,683.8 1037.5,690.6 1045.5,695.6 1053.5,700.3 1061.5,704.3 1069.5,709.0 1077.5,711.8 1085.5,715.7 1093.5,718.4 1101.5,720.3 1109.5,722.0 1117.5,723.1 1125.5,724.2 1133.5,724.2 1141.5,724.2" fill="none" stroke="#ff0000" stroke-width="3" stroke-linejoin="round"/>
<rect x="2" y="2" width="2" height="809" fill="#ffffff"/>
<rect x="2" y="2" width="1522" height="2" fill="#ffffff"/>
<rect x="1453" y="2" width="71" height="809" fill="#ffffff"/>
<rect x="4" y="634" width="1449" height="1" fill="#ffffff"/>
<rect x="4" y="785" width="1449" height="26" fill="#ffffff"/>
<g fill="none" stroke="#000" stroke-width="1">
<rect x="4.5" y="4.5" width="1448" height="629"/>
<rect x="4.5" y="635.5" width="1448" height="149"/>
</g>
<rect x="1452" y="35" width="2" height="4" fill="#000000"/>
<rect x="1452" y="109" width="2" height="4" fill="#000000"/>
<rect x="1452" y="263" width="2" height="4" fill="#0000cd"/>
<rect x="1452" y="325" width="2" height="4" fill="#0000cd"/>
<polygon points="1154,5 1169,5 1161.5,13" fill="#778899"/>
<polygon points="8,12 19,12 13.5,18" fill="#000"/>
<rect x="1453" y="13" width="2" height="1" fill="#000"/>
<rect x="1453" y="78" width="2" height="1" fill="#000"/>
<rect x="1453" y="143" width="2" height="1" fill="#000"/>
<rect x="1453" y="208" width="2" height="1" fill="#000"/>
<rect x="1453" y="273" width="2" height="1" fill="#000"/>
<rect x="1453" y="338" width="2" height="1" fill="#000"/>
<rect x="1453" y="403" width="2" height="1" fill="#000"/>
<rect x="1453" y="468" width="2" height="1" fill="#000"/>
<rect x="1453" y="533" width="2" height="1" fill="#000"/>
<rect x="1453" y="598" width="2" height="1" fill="#000"/>
<rect x="1453" y="637" width="1" height="1" fill="#000"/>
<rect x="1453" y="713" width="1" height="1" fill="#000"/>
<rect x="1453" y="783" width="1" height="1" fill="#000"/>
<g font-family="Liberation Sans, sans-serif" font-size="14" fill="#000">
<text x="1459" y="19">1990.90</text>
<text x="1459" y="84">1980.40</text>
<text x="1459" y="149">1969.75</text>
<text x="1459" y="214">1959.25</text>
<text x="1459" y="279">1948.75</text>
<text x="1459" y="344">1938.10</text>
<text x="1459" y="409">1927.60</text>
<text x="1459" y="474">1917.10</text>
<text x="1459" y="539">1906.60</text>
<text x="1459" y="604">1895.95</text>
<text x="1456" y="651">10.898</text>
<text x="1456" y="719">0.00</text>
<text x="1456" y="780">-10.125</text>
</g>
<rect x="1454" y="31" width="62" height="17" fill="#000"/>
<text x="1459" y="45" font-family="Liberation Sans, sans-serif" font-size="14" fill="#fff">1987.00</text>
<rect x="1454" y="105" width="62" height="17" fill="#000"/>
<text x="1459" y="119" font-family="Liberation Sans, sans-serif" font-size="14" fill="#fff">1975.00</text>
<rect x="1454" y="169" width="62" height="17" fill="#000"/>
<text x="1459" y="183" font-family="Liberation Sans, sans-serif" font-size="14" fill="#fff">1964.21</text>
<rect x="1454" y="259" width="62" height="17" fill="#0000cd"/>
<text x="1459" y="273" font-family="Liberation Sans, sans-serif" font-size="14" fill="#fff">1950.00</text>
<rect x="1454" y="321" width="62" height="17" fill="#0000cd"/>
<text x="1459" y="335" font-family="Liberation Sans, sans-serif" font-size="14" fill="#fff">1940.00</text>
<g font-family="Liberation Sans, sans-serif" font-size="14" fill="#000">
<rect x="5" y="785" width="1" height="3" fill="#000"/>
<text x="4" y="802">22 Jun 2023</text>
<rect x="133" y="785" width="1" height="3" fill="#000"/>
<text x="132" y="802">27 Jun 00:00</text>
<rect x="261" y="785" width="1" height="3" fill="#000"/>
<text x="260" y="802">29 Jun 16:00</text>
<rect x="389" y="785" width="1" height="3" fill="#000"/>
<text x="388" y="802">4 Jul 08:00</text>
<rect x="517" y="785" width="1" height="3" fill="#000"/>
<text x="516" y="802">7 Jul 00:00</text>
<rect x="645" y="785" width="1" height="3" fill="#000"/>
<text x="644" y="802">11 Jul 16:00</text>
<rect x="773" y="785" width="1" height="3" fill="#000"/>
<text x="772" y="802">14 Jul 08:00</text>
<rect x="901" y="785" width="1" height="3" fill="#000"/>
<text x="900" y="802">19 Jul 00:00</text>
<rect x="1029" y="785" width="1" height="3" fill="#000"/>
<text x="1028" y="802">21 Jul 16:00</text>
</g>
<g font-family="Liberation Sans, sans-serif" font-size="14" fill="#000">
<text x="25" y="21" textLength="79" lengthAdjust="spacingAndGlyphs">XAUUSD-,H4</text>
<text x="112" y="21">1965.20</text>
<text x="168" y="21">1965.93</text>
<text x="223" y="21">1963.90</text>
<text x="280" y="21">1964.21</text>
</g>
<text x="9" y="653" font-family="Liberation Sans, sans-serif" font-size="14" fill="#000">MACD(12,26,9) -0.710 -1.591</text>
<line x1="1139.5" y1="264" x2="1166.5" y2="106" stroke="#ff0000" stroke-width="5.6" stroke-linecap="round" shape-rendering="geometricPrecision"/>
<polygon points="1155,105 1172.4,72 1178,109" fill="#ff0000" shape-rendering="geometricPrecision"/>
</svg>
</body></html>
